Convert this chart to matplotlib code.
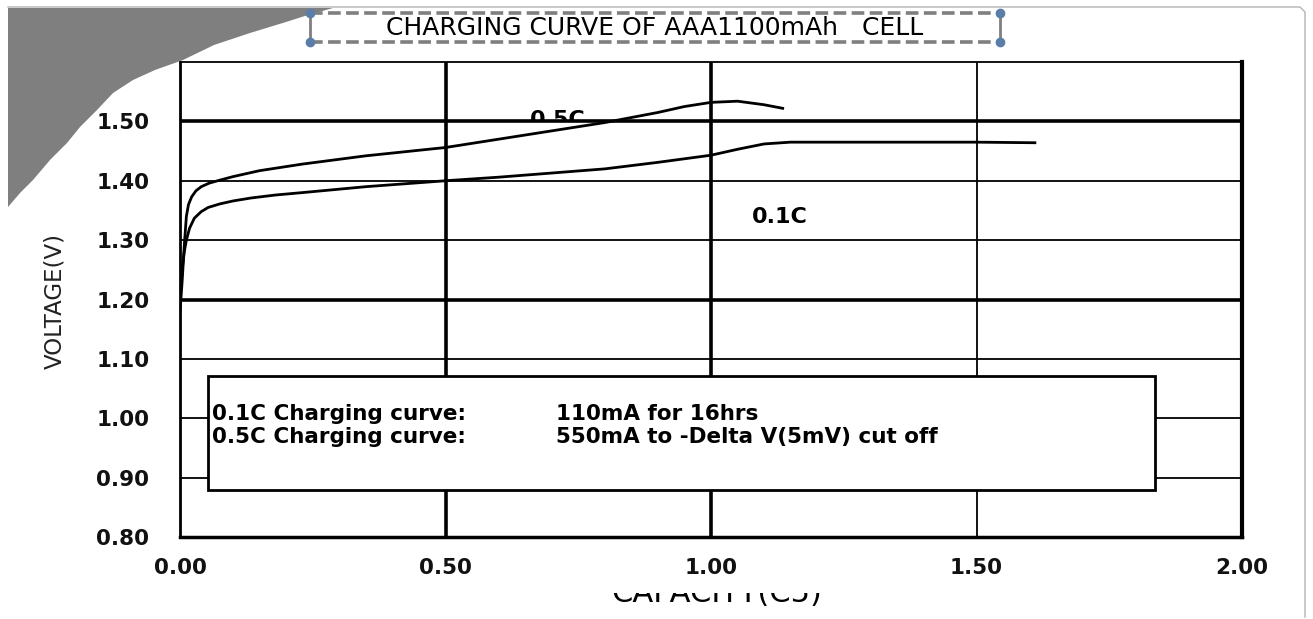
#Charging curve of an AAA 1100mAh cell, redrawn from a scanned datasheet figure

import numpy as np
import matplotlib.pyplot as plt
from matplotlib.patches import Rectangle, Polygon
from matplotlib.lines import Line2D
from matplotlib.transforms import Bbox, TransformedBbox

plt.rcParams['font.family'] = 'DejaVu Sans'

W, H = 1313, 619

#values: capacity in C5, voltage in V
cap_05c = [0.0, 0.004, 0.008, 0.012, 0.016, 0.022, 0.03, 0.04, 0.055, 0.075, 0.10, 0.15,
           0.23, 0.35, 0.5, 0.6, 0.7, 0.8, 0.9, 0.95, 1.0, 1.05, 1.1, 1.135]
volt_05c = [1.18, 1.23, 1.29, 1.34, 1.36, 1.373, 1.383, 1.39, 1.396, 1.401, 1.407, 1.417,
            1.428, 1.442, 1.456, 1.470, 1.484, 1.498, 1.515, 1.525, 1.532, 1.534, 1.528, 1.522]

cap_01c = [0.0, 0.004, 0.008, 0.012, 0.018, 0.027, 0.04, 0.053, 0.075, 0.10, 0.134, 0.18,
           0.23, 0.35, 0.5, 0.6, 0.7, 0.8, 0.9, 1.0, 1.05, 1.1, 1.15, 1.3, 1.5, 1.61]
volt_01c = [1.20, 1.25, 1.28, 1.30, 1.32, 1.337, 1.348, 1.355, 1.361, 1.366, 1.371, 1.376,
            1.38, 1.39, 1.40, 1.406, 1.413, 1.42, 1.431, 1.443, 1.453, 1.462, 1.465, 1.465,
            1.465, 1.464]

x_ticks = [0.0, 0.5, 1.0, 1.5, 2.0]
y_ticks = [0.8, 0.9, 1.0, 1.1, 1.2, 1.3, 1.4, 1.5]
heavy_x = [0.5, 1.0]
heavy_y = [1.2, 1.5]

title = 'CHARGING CURVE OF AAA1100mAh   CELL'
note_left = ['0.1C Charging curve:', '0.5C Charging curve:']
note_right = ['110mA for 16hrs', '550mA to -Delta V(5mV) cut off']


def px(x, y):
    #pixel position (from top-left) to figure fraction
    return x / W, 1 - y / H


fig = plt.figure(figsize=(W / 100, H / 100), dpi=100)
fig.patch.set_facecolor('white')

ax = fig.add_axes([180 / W, 1 - 537 / H, 1062 / W, 475 / H])
ax.set_xlim(0, 2)
ax.set_ylim(0.8, 1.6)

#grid, heavy and light lines like the scan
for v in x_ticks[1:-1]:
    ax.axvline(v, color='black', lw=2.6 if v in heavy_x else 1.3, zorder=1)
for v in y_ticks[1:]:
    ax.axhline(v, color='black', lw=2.6 if v in heavy_y else 1.3, zorder=1)

ax.plot(cap_05c, volt_05c, color='black', lw=2, zorder=4, solid_joinstyle='round')
ax.plot(cap_01c, volt_01c, color='black', lw=2, zorder=4, solid_joinstyle='round')

for side, w in [('left', 2), ('bottom', 2.5), ('right', 3), ('top', 1.3)]:
    ax.spines[side].set_linewidth(w)

ax.set_xticks(x_ticks)
ax.set_xticklabels(['%.2f' % v for v in x_ticks])
ax.set_yticks(y_ticks)
ax.set_yticklabels(['%.2f' % v for v in y_ticks])
ax.tick_params(axis='both', length=0, labelsize=15.5)
ax.tick_params(axis='y', pad=22)
ax.tick_params(axis='x', pad=15)
for lab in ax.get_xticklabels() + ax.get_yticklabels():
    lab.set_fontweight('bold')
    lab.set_color('#111111')

#note box inside the plot
ax.add_patch(Rectangle((0.053, 0.879), 1.784, 0.192, facecolor='white',
                       edgecolor='black', lw=2, zorder=3))
for i, yy in enumerate([1.008, 0.968]):
    ax.text(0.061, yy, note_left[i], fontsize=15.5, fontweight='bold', va='center', zorder=5)
    ax.text(0.708, yy, note_right[i], fontsize=15.5, fontweight='bold', va='center', zorder=5)

#curve labels, the 0.5C one is cut by the 1.50 line in the scan
t = ax.text(0.659, 1.492, '0.5C', fontsize=16, fontweight='bold', va='baseline', zorder=0,
            clip_on=True)
t.set_clip_box(TransformedBbox(Bbox([[0, 1.502], [2, 1.6]]), ax.transData))
ax.text(1.077, 1.339, '0.1C', fontsize=16, fontweight='bold', va='center')

#axis titles
fig.text(*px(55, 301), 'VOLTAGE(V)', rotation=90, ha='center', va='center',
         fontsize=16.5, color='#222222')
xl = fig.text(*px(717, 608), 'CAPACITY(C5)', ha='center', va='bottom', fontsize=22,
              clip_on=True)
xl.set_clip_box(TransformedBbox(Bbox([[0, 0], [1, 1 - 593 / H]]), fig.transFigure))

#grey corner of the page and the frame round the picture
corner = [(8, 8), (333, 8), (308, 15), (286, 22), (250, 33), (214, 45), (183, 60),
          (155, 70), (133, 80), (113, 93), (97, 110), (80, 127), (67, 143), (50, 160),
          (33, 180), (20, 193), (8, 207)]
fig.add_artist(Polygon([px(a, b) for a, b in corner], closed=True, facecolor='#7f7f7f',
                       edgecolor='none', transform=fig.transFigure))
frame = [px(8, 7), px(1300, 7), px(1305, 12), px(1305, 617)]
fig.add_artist(Line2D([p[0] for p in frame], [p[1] for p in frame], color='#b4b4b4',
                      lw=1, transform=fig.transFigure))

#title in its dashed selection box
x0, x1, y0, y1 = 310, 1000, 13, 42
for yy in [y0, y1]:
    fig.add_artist(Line2D([x0 / W, x1 / W], [1 - yy / H, 1 - yy / H], color='#7f7f7f',
                          lw=2.6, ls=(0, (3.5, 1.5)), transform=fig.transFigure))
for xx in [x0, x1]:
    fig.add_artist(Line2D([xx / W, xx / W], [1 - y0 / H, 1 - y1 / H], color='#7f7f7f',
                          lw=2, transform=fig.transFigure))
    for yy in [y0, y1]:
        fig.add_artist(Line2D([xx / W], [1 - yy / H], marker='o', ms=6, color='#5b7ea8',
                              transform=fig.transFigure))
fig.text(*px(655, 28), title, ha='center', va='center', fontsize=18)

fig.savefig('out.png', dpi=100)
